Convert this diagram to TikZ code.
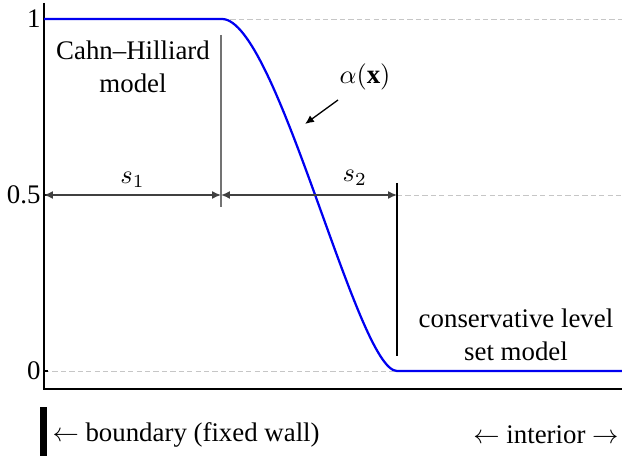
\documentclass[tikz,border=0pt]{standalone}
\usepackage{fontspec}
\setmainfont{Liberation Serif}
\usetikzlibrary{arrows.meta}
\definecolor{curveblue}{HTML}{0000F0}
\tikzset{
  axisline/.style={line width=0.8pt, black},
  guide/.style={gray!45, dashed, dash pattern=on 2pt off 1.2pt, line width=0.35pt},
  sepline/.style={black!55, line width=0.6pt},
  dimline/.style={{Latex[length=3.4pt, width=3pt]}-{Latex[length=3.4pt, width=3pt]}, black!75, line width=0.55pt},
  ptr/.style={-{Latex[length=3.4pt, width=3pt]}, black, line width=0.5pt},
  lbl/.style={inner sep=0pt, text=black, font=\fontsize{10.2}{12.6}\selectfont, align=center},
}

\begin{document}
\begin{tikzpicture}[x=0.38pt, y=-0.38pt]
  \useasboundingbox (0,0) rectangle (622,459);
  % guide lines
  \draw[guide] (222,19) -- (622,19);
  \draw[guide] (397,195) -- (622,195);
  \draw[guide] (44,371) -- (397,371);
  % axes
  \draw[axisline] (44,3) -- (44,389) -- (622,389);
  \foreach \yy in {19,195,371} \draw[axisline, line width=0.5pt] (44,\yy) -- (48,\yy);
  \node[lbl, anchor=east] (tone) at (41,19) {1};
  \node[lbl, anchor=east] (thalf) at (41,195) {0.5};
  \node[lbl, anchor=east] (tzero) at (41,371) {0};
  % separators between the models
  \draw[sepline] (221,35) -- (221,207);
  \draw[black, line width=0.5pt] (397,183) -- (397,356);
  % the profile
  \draw[curveblue, line width=0.85pt] (44,19) -- (222,19)
    .. controls (277,19) and (357,371) .. (397,371) -- (622,371);
  % widths
  \coordinate (wall) at (44,195);
  \coordinate (mid) at (221,195);
  \coordinate (edge) at (397,195);
  \draw[dimline] (wall) -- node[lbl, above=2.5pt] (sone) {$s_1$} (mid);
  \draw[dimline] (mid) -- node[lbl, above=3.5pt, pos=0.76] (stwo) {$s_2$} (edge);
  % labels
  \node[lbl] (ch) at (133,67) {Cahn--Hilliard\\model};
  \node[lbl] (cls) at (516,335) {conservative level\\set model};
  \node[lbl] (alab) at (365,77) {$\alpha(\mathbf{x})$};
  \coordinate (atip) at (305,124);
  \draw[ptr] (338,100) -- (atip);
  % bottom legend
  \fill[black] (40,407) rectangle (47,456) coordinate (bar);
  \node[lbl, anchor=west] (bnd) at (52,435) {$\leftarrow$ boundary (fixed wall)};
  \node[lbl, anchor=east] (intr) at (619,435) {$\leftarrow$ interior $\rightarrow$};
\end{tikzpicture}
\end{document}
